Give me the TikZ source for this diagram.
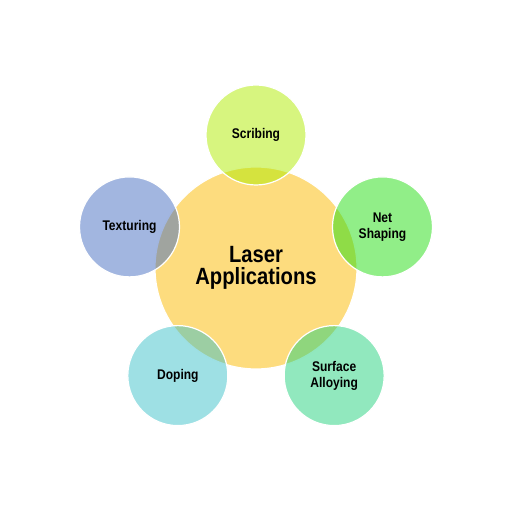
\documentclass[tikz,border=0pt]{standalone}
\usepackage{fontspec}
\setmainfont{Liberation Sans}[FakeStretch=0.86]
\usepackage{xcolor}
\usepackage{tikz}
\usetikzlibrary{positioning,calc}

\definecolor{hubyellow}{RGB}{253,220,126}
\definecolor{scribecol}{RGB}{175,235,0}
\definecolor{netcol}{RGB}{35,221,17}
\definecolor{surfcol}{RGB}{35,209,125}
\definecolor{dopecol}{RGB}{61,193,201}
\definecolor{texcol}{RGB}{69,109,193}

\begin{document}
\begin{tikzpicture}[
        x=1pt,y=1pt,
        hub/.style={circle,draw=white,line width=1.2pt,fill=hubyellow,minimum size=202pt,inner sep=0pt,align=center,font=\fontsize{23.5}{22.5}\selectfont\bfseries},
        app/.style={circle,draw=white,line width=1.2pt,minimum size=100pt,inner sep=0pt,align=center,fill opacity=0.5,draw opacity=1,text opacity=1,font=\fontsize{14}{16}\selectfont\bfseries}
    ]
        \useasboundingbox (0,0) rectangle (512,512);

        \node[hub] (hub) at (256,244) {Laser\\Applications};

        \node[app,fill=scribecol] (scribing) at ($(hub)+(90:133)$) {Scribing};
        \node[app,fill=netcol] (netshaping) at ($(hub)+(18:133)$) {Net\\Shaping};
        \node[app,fill=surfcol] (surface) at ($(hub)+(-54:133)$) {Surface\\Alloying};
        \node[app,fill=dopecol] (doping) at ($(hub)+(-126:133)$) {Doping};
        \node[app,fill=texcol] (texturing) at ($(hub)+(162:133)$) {Texturing};
    \end{tikzpicture}
\end{document}
